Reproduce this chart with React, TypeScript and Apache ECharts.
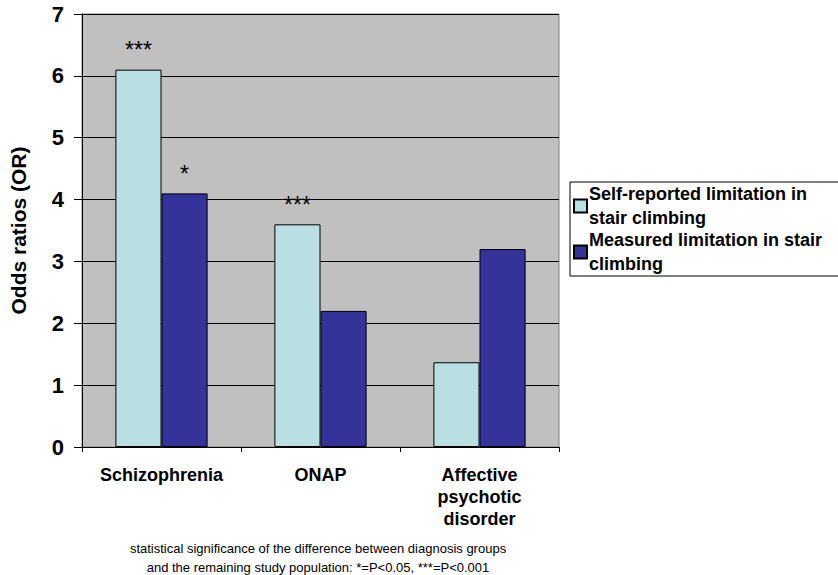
import React, { useEffect, useRef } from "react";
import * as echarts from "echarts";

const categories = ["Schizophrenia", "ONAP", "Affective\npsychotic\ndisorder"];
const seriesNames = ["Self-reported limitation in\nstair climbing", "Measured limitation in stair\nclimbing"];
const selfReported = [6.1, 3.6, 1.37];
const measured = [4.1, 2.2, 3.2];
const selfSig = ["***", "***", ""];
const measuredSig = ["*", "", ""];
const yTicks = [0, 1, 2, 3, 4, 5, 6, 7];
const footnote = [
  "statistical significance of the difference between diagnosis groups",
  "and the remaining study population: *=P<0.05, ***=P<0.001",
];

const FONT = "'Liberation Sans', Arial, sans-serif";

export default function App() {
  const ref = useRef<HTMLDivElement>(null);
  useEffect(() => {
    document.body.style.margin = "0";
    const chart = echarts.init(ref.current!, null, { renderer: "svg" });
    const mkLabel = (arr: string[]) => ({
      show: true,
      position: "top",
      distance: 8,
      color: "#000",
      fontSize: 23,
      fontFamily: FONT,
      formatter: (p: any) => arr[p.dataIndex] || "",
    });
    chart.setOption({
      animation: false,
      textStyle: { fontFamily: FONT },
      grid: {
        left: 78,
        top: 14,
        width: 481,
        height: 433,
        show: true,
        backgroundColor: "#C0C0C0",
        borderColor: "#808080",
        borderWidth: 1,
      },
      legend: {
        orient: "vertical",
        left: 570,
        top: 182,
        padding: [0, 30, 0, 3],
        itemGap: -2,
        itemWidth: 13,
        itemHeight: 13,
        borderColor: "#000",
        borderWidth: 1,
        backgroundColor: "#fff",
        icon: "rect",
        data: seriesNames,
        textStyle: {
          fontSize: 18,
          fontWeight: "bold",
          color: "#000",
          lineHeight: 24,
          fontFamily: FONT,
          padding: [0, 0, 0, -3],
        },
      },
      xAxis: {
        type: "category",
        data: categories,
        axisLine: { lineStyle: { color: "#000" } },
        axisTick: { show: true, length: 5, lineStyle: { color: "#000" } },
        axisLabel: {
          interval: 0,
          hideOverlap: false,
          color: "#000",
          fontSize: 18,
          fontWeight: "bold",
          margin: 17,
          lineHeight: 22,
          fontFamily: FONT,
        },
      },
      yAxis: {
        type: "value",
        min: yTicks[0],
        max: yTicks[yTicks.length - 1],
        interval: 1,
        name: "Odds ratios (OR)",
        nameLocation: "middle",
        nameGap: 53,
        nameTextStyle: { fontSize: 21, fontWeight: "bold", color: "#000", fontFamily: FONT },
        axisLine: { show: true, lineStyle: { color: "#000" } },
        axisTick: { show: true, length: 8, lineStyle: { color: "#000" } },
        axisLabel: { color: "#000", fontSize: 22, fontWeight: "bold", margin: 18, fontFamily: FONT },
        splitLine: { lineStyle: { color: "#000", width: 1 } },
      },
      series: [
        {
          name: seriesNames[0],
          type: "bar",
          data: selfReported,
          barGap: "0%",
          barCategoryGap: "42%",
          itemStyle: { color: "#B9DFE2", borderColor: "#000", borderWidth: 1 },
          label: mkLabel(selfSig),
        },
        {
          name: seriesNames[1],
          type: "bar",
          data: measured,
          itemStyle: { color: "#333399", borderColor: "#000", borderWidth: 1 },
          label: mkLabel(measuredSig),
        },
      ],
      graphic: footnote.map((t, i) => ({
        type: "text",
        x: 318,
        y: 548 + i * 19,
        style: {
          text: t,
          fontSize: 13,
          fontFamily: FONT,
          fill: "#000",
          textAlign: "center",
          textVerticalAlign: "middle",
        },
      })),
    });
    return () => chart.dispose();
  }, []);
  return <div ref={ref} style={{ width: 838, height: 575 }} />;
}
